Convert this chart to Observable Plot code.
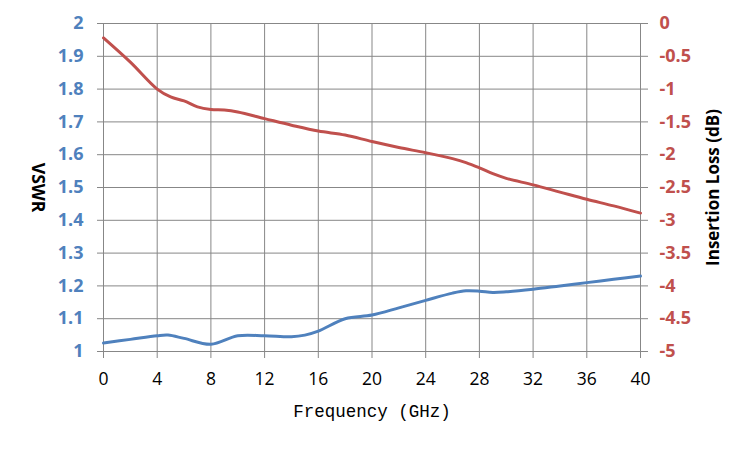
<!DOCTYPE html>
<html>
<head>
<meta charset="utf-8">
<script src="https://cdn.jsdelivr.net/npm/d3@7"></script>
<script src="https://cdn.jsdelivr.net/npm/@observablehq/plot@0.6"></script>
<style>
  html, body { margin: 0; padding: 0; background: #fff; }
</style>
</head>
<body>
<div id="chart"></div>
<script>
const xTicks = [0, 4, 8, 12, 16, 20, 24, 28, 32, 36, 40];
const vswrTicks = [1, 1.1, 1.2, 1.3, 1.4, 1.5, 1.6, 1.7, 1.8, 1.9, 2];
const ilTicks = [0, -0.5, -1, -1.5, -2, -2.5, -3, -3.5, -4, -4.5, -5];

const vswrFreq = [0, 2, 4, 4.8, 6, 8, 10, 12, 14, 15, 16, 18, 20, 22, 24, 26, 27, 28, 29, 30, 32, 34, 36, 38, 40];
const vswrVals = [1.026, 1.037, 1.048, 1.05, 1.04, 1.022, 1.048, 1.048, 1.045, 1.05, 1.062, 1.10, 1.111, 1.133, 1.156, 1.178, 1.185, 1.184, 1.18, 1.182, 1.19, 1.20, 1.21, 1.22, 1.23];

const ilFreq = [0, 2, 4, 5, 6, 7, 8, 9, 10, 12, 14, 16, 18, 20, 22, 24, 26, 27, 28, 29, 30, 32, 34, 36, 38, 40];
const ilVals = [-0.22, -0.59, -1.0, -1.12, -1.18, -1.27, -1.31, -1.32, -1.35, -1.45, -1.55, -1.64, -1.70, -1.80, -1.89, -1.97, -2.06, -2.12, -2.20, -2.29, -2.36, -2.46, -2.57, -2.68, -2.78, -2.89];

// Right axis (IL, 0..-5) mapped onto the left axis range (1..2)
const ilToY = v => 2 + v / 5;
const yToIl = y => Math.round((y - 2) * 50) / 10;

const vswrData = vswrFreq.map((f, i) => ({f, v: vswrVals[i]}));
const ilData = ilFreq.map((f, i) => ({f, v: ilToY(ilVals[i])}));

const grid = "#878787";
const blue = "#4F81BD";
const red = "#C0504D";

const chart = Plot.plot({
  width: 750,
  height: 450,
  marginLeft: 103,
  marginRight: 110,
  marginTop: 23,
  marginBottom: 99,
  style: {fontFamily: "Open Sans", background: "#fff"},
  x: {domain: [0, 40]},
  y: {domain: [1, 2]},
  marks: [
    Plot.gridX(xTicks, {stroke: grid, strokeOpacity: 1, strokeWidth: 1}),
    Plot.gridY(vswrTicks, {stroke: grid, strokeOpacity: 1, strokeWidth: 1}),
    Plot.axisX(xTicks, {
      tickSize: 7, tickPadding: 14, label: null, stroke: grid,
      fill: "#000", fontSize: 17.5, tickFormat: d => String(d)
    }),
    Plot.axisY(vswrTicks, {
      anchor: "left", tickSize: 6, tickPadding: 14, label: null, stroke: grid,
      fill: blue, fontSize: 18, fontWeight: "bold", tickFormat: d => String(Math.round(d * 10) / 10)
    }),
    Plot.axisY(ilTicks.map(ilToY), {
      anchor: "right", tickSize: 7, tickPadding: 12, label: null, stroke: grid,
      fill: red, fontSize: 18, fontWeight: "bold", tickFormat: d => String(yToIl(d))
    }),
    Plot.line(ilData, {x: "f", y: "v", stroke: red, strokeWidth: 3, curve: "catmull-rom"}),
    Plot.line(vswrData, {x: "f", y: "v", stroke: blue, strokeWidth: 3, curve: "catmull-rom"}),
    Plot.text(["VSWR"], {text: d => d, frameAnchor: "left", textAnchor: "middle", lineAnchor: "middle", dx: -66, rotate: 90, fontSize: 17.5, fontWeight: "bold", fill: "#000"}),
    Plot.text(["Insertion Loss (dB)"], {text: d => d, frameAnchor: "right", textAnchor: "middle", lineAnchor: "middle", dx: 73, rotate: -90, fontSize: 17, fontWeight: "bold", fill: "#000"}),
    Plot.text(["Frequency (GHz)"], {text: d => d, frameAnchor: "bottom", lineAnchor: "middle", dy: 60, fontSize: 17.5, fontFamily: "Liberation Mono", fill: "#000"})
  ]
});
document.getElementById("chart").appendChild(chart);
</script>
</body>
</html>
